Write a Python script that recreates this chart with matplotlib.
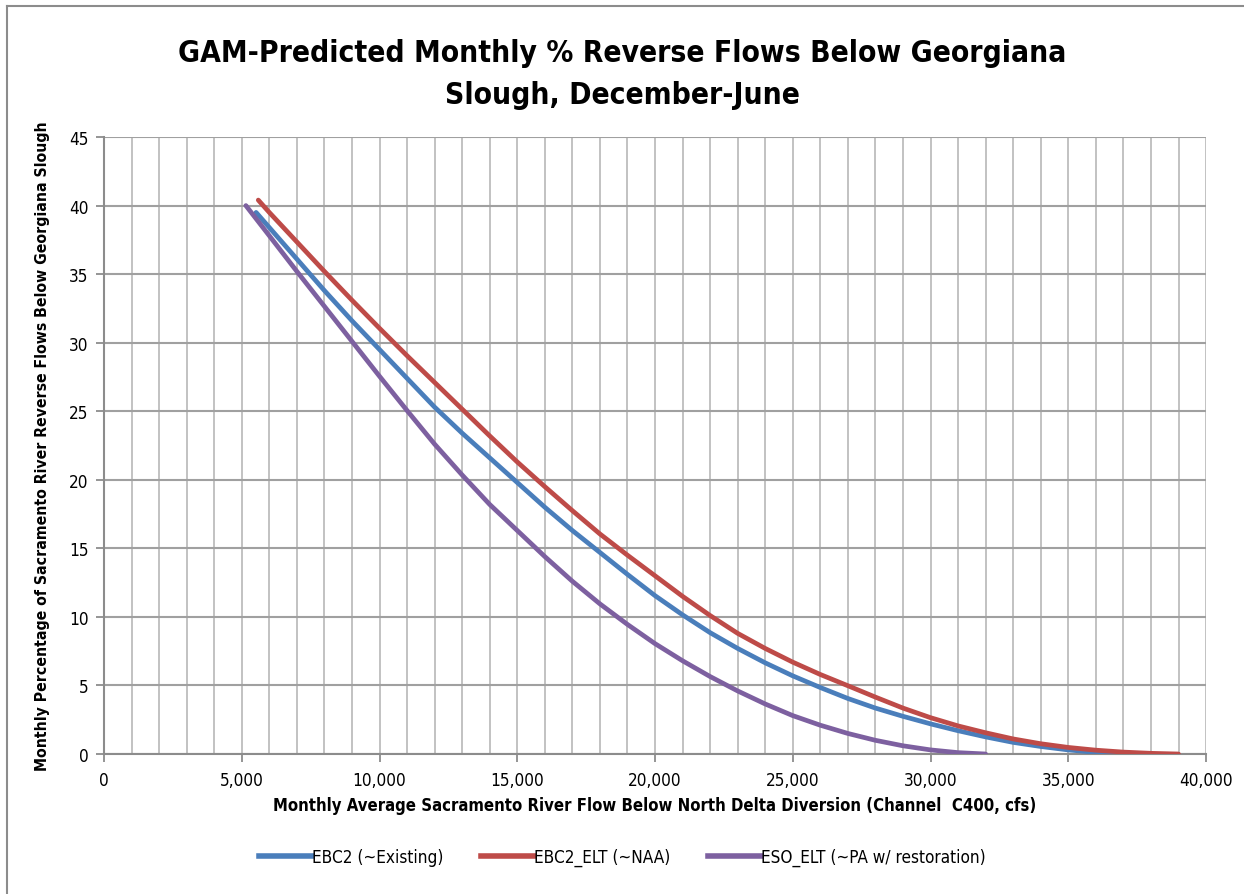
# -*- coding: utf-8 -*-
import matplotlib
matplotlib.use("Agg")
import matplotlib.pyplot as plt
from matplotlib.lines import Line2D
from matplotlib.ticker import MultipleLocator, FuncFormatter

plt.rcParams['font.family'] = ['Liberation Sans Narrow', 'DejaVu Sans']
plt.rcParams['font.stretch'] = 'condensed'

# values
ebc2_x = [5520, 6000, 7000, 8000, 9000, 10000, 11000, 12000, 13000, 14000, 15000,
          16000, 17000, 18000, 19000, 20000, 21000, 22000, 23000, 24000, 25000,
          26000, 27000, 28000, 29000, 30000, 31000, 32000, 33000, 34000, 35000,
          36000, 37000]
ebc2_y = [39.5, 38.4, 36.1, 33.8, 31.6, 29.5, 27.4, 25.3, 23.4, 21.6, 19.8,
          18.0, 16.3, 14.7, 13.1, 11.55, 10.15, 8.85, 7.7, 6.65, 5.7,
          4.85, 4.05, 3.35, 2.75, 2.2, 1.7, 1.25, 0.85, 0.55, 0.3,
          0.12, 0.0]

ebc2_elt_x = [5600, 6000, 7000, 8000, 9000, 10000, 11000, 12000, 13000, 14000, 15000,
              16000, 17000, 18000, 19000, 20000, 21000, 22000, 23000, 24000, 25000,
              26000, 27000, 28000, 29000, 30000, 31000, 32000, 33000, 34000, 35000,
              36000, 37000, 38000, 39000]
ebc2_elt_y = [40.4, 39.5, 37.35, 35.2, 33.1, 31.05, 29.05, 27.1, 25.15, 23.2, 21.3,
              19.5, 17.75, 16.05, 14.5, 13.0, 11.5, 10.1, 8.8, 7.7, 6.7,
              5.8, 4.98, 4.15, 3.35, 2.65, 2.05, 1.55, 1.1, 0.75, 0.48,
              0.28, 0.14, 0.05, 0.0]

eso_elt_x = [5150, 6000, 7000, 8000, 9000, 10000, 11000, 12000, 13000, 14000, 15000,
             16000, 17000, 18000, 19000, 20000, 21000, 22000, 23000, 24000, 25000,
             26000, 27000, 28000, 29000, 30000, 31000, 32000]
eso_elt_y = [40.0, 37.8, 35.2, 32.65, 30.1, 27.55, 25.05, 22.6, 20.35, 18.2, 16.3,
             14.4, 12.6, 10.95, 9.45, 8.05, 6.8, 5.65, 4.6, 3.65, 2.8,
             2.1, 1.5, 1.0, 0.6, 0.3, 0.1, 0.0]

labels = ['EBC2 (~Existing)', 'EBC2_ELT (~NAA)', 'ESO_ELT (~PA w/ restoration)']
colors = ['#4a7ebb', '#be4b48', '#7d60a0']

fig = plt.figure(figsize=(12.44, 8.95), dpi=100)
ax = fig.add_axes([0.0836, 0.1564, 0.8859, 0.6894])

ax.plot(ebc2_x, ebc2_y, color=colors[0], lw=3.4, solid_capstyle='round', zorder=3)
ax.plot(ebc2_elt_x, ebc2_elt_y, color=colors[1], lw=3.4, solid_capstyle='round', zorder=3)
ax.plot(eso_elt_x, eso_elt_y, color=colors[2], lw=3.4, solid_capstyle='round', zorder=3)

ax.set_xlim(0, 40000)
ax.set_ylim(0, 45)
ax.xaxis.set_major_locator(MultipleLocator(5000))
ax.xaxis.set_minor_locator(MultipleLocator(1000))
ax.yaxis.set_major_locator(MultipleLocator(5))
ax.xaxis.set_major_formatter(FuncFormatter(lambda v, p: f'{int(v):,}'))

ax.grid(True, which='both', axis='x', color='#bdbdbd', lw=1.3)
ax.grid(True, which='major', axis='y', color='#a0a0a0', lw=1.5)
ax.set_axisbelow(True)

for s in ['top', 'right']:
    ax.spines[s].set_visible(False)
for s in ['left', 'bottom']:
    ax.spines[s].set_color('#8c8c8c')
    ax.spines[s].set_linewidth(1.5)

ax.tick_params(axis='both', which='major', length=6, width=1.3, color='#8c8c8c',
               labelsize=12.3, pad=5)
ax.tick_params(axis='x', which='minor', length=0)
ax.tick_params(axis='x', pad=6)

ax.set_xlabel('Monthly Average Sacramento River Flow Below North Delta Diversion (Channel  C400, cfs)',
              fontsize=12, fontweight='bold', labelpad=5)
ax.set_ylabel('Monthly Percentage of Sacramento River Reverse Flows Below Georgiana Slough',
              fontsize=11.3, fontweight='bold', labelpad=14)

fig.text(0.5, 0.917, 'GAM-Predicted Monthly % Reverse Flows Below Georgiana\nSlough, December-June',
         ha='center', va='center', fontsize=21.5, fontweight='bold', linespacing=1.55)

handles = [Line2D([0], [0], color=c, lw=4) for c in colors]
fig.legend(handles, labels, loc='center', bbox_to_anchor=(0.5, 0.041), ncol=3,
           frameon=False, fontsize=12.3, handlelength=3.1, handletextpad=0.0,
           columnspacing=2.2)

# chart area border
fig.add_artist(Line2D([7 / 1244, 7 / 1244], [0, 1 - 7 / 895], color='#8c8c8c', lw=1.5))
fig.add_artist(Line2D([7 / 1244, 1], [1 - 7 / 895, 1 - 7 / 895], color='#8c8c8c', lw=1.5))

fig.savefig('out.png', dpi=100)
